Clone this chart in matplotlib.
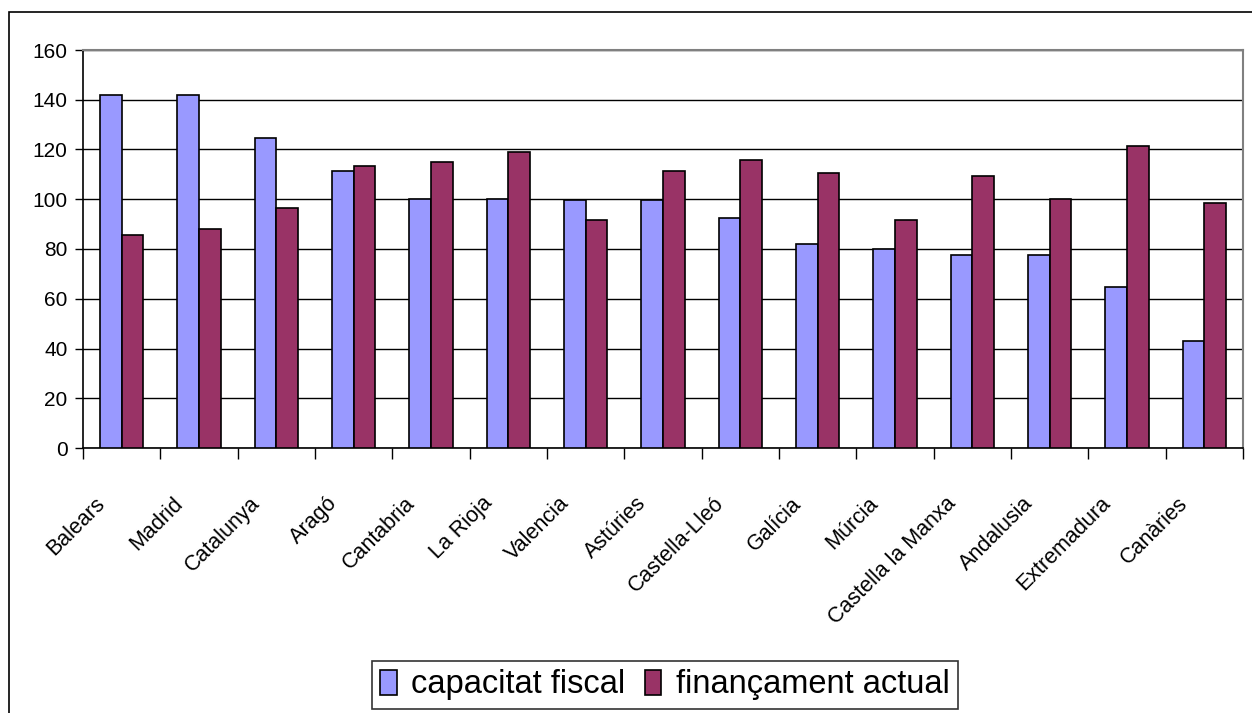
import matplotlib
matplotlib.use("Agg")
import matplotlib.pyplot as plt
import matplotlib.transforms as mtransforms
from matplotlib.patches import Rectangle
import numpy as np

plt.rcParams["font.family"] = ["Liberation Sans", "DejaVu Sans"]

# Dades
comunitats = ["Balears", "Madrid", "Catalunya", "Aragó", "Cantabria", "La Rioja",
              "Valencia", "Astúries", "Castella-Lleó", "Galícia", "Múrcia",
              "Castella la Manxa", "Andalusia", "Extremadura", "Canàries"]
capacitat_fiscal = [142, 142, 124.7, 111.2, 100, 100, 99.8, 99.8, 92.6, 82.1,
                    79.8, 77.7, 77.7, 64.9, 43.1]
financament_actual = [85.5, 88.2, 96.5, 113.2, 115.1, 119, 91.8, 111.2, 115.8,
                      110.7, 91.8, 109.5, 100, 121.5, 98.4]
y_ticks = [0, 20, 40, 60, 80, 100, 120, 140, 160]

W, H = 1252, 713
fig = plt.figure(figsize=(W / 100, H / 100), dpi=100)

# marc exterior del gràfic
fig.patches.append(Rectangle((9 / W, -0.05), 1.1, (H - 12) / H + 0.05,
                             transform=fig.transFigure, fill=False,
                             edgecolor="black", linewidth=1.2))

ax = fig.add_axes([83 / W, (H - 448) / H, (1243 - 83) / W, (448 - 50) / H])

x = np.arange(len(comunitats))
bw = 0.28
ax.bar(x - bw / 2, capacitat_fiscal, bw, color="#9999FF", edgecolor="black",
       linewidth=1.2, label="capacitat fiscal", zorder=3)
ax.bar(x + bw / 2, financament_actual, bw, color="#993366", edgecolor="black",
       linewidth=1.2, label="finançament actual", zorder=3)

ax.set_xlim(-0.5, len(comunitats) - 0.5)
ax.set_ylim(0, 160)
ax.set_yticks(y_ticks)
ax.yaxis.grid(True, color="black", linewidth=1.0, zorder=0)
ax.tick_params(axis="y", direction="out", length=6, width=1, pad=5, labelsize=15)

# marques a les fronteres de categoria, etiquetes al centre
ax.set_xticks(np.arange(-0.5, len(comunitats)), minor=True)
ax.set_xticks(x)
ax.set_xticklabels(comunitats, rotation=45, ha="right", va="top",
                   rotation_mode="anchor", fontsize=15.5)
ax.tick_params(axis="x", which="major", length=0, pad=0)
ax.tick_params(axis="x", which="minor", direction="out", length=8, width=1)
offset = mtransforms.ScaledTranslation(-27 / 100, -45 / 100, fig.dpi_scale_trans)
for lab in ax.get_xticklabels():
    lab.set_transform(lab.get_transform() + offset)

for side in ["left", "bottom"]:
    ax.spines[side].set_color("black")
    ax.spines[side].set_linewidth(1.2)
for side in ["top", "right"]:
    ax.spines[side].set_color("#808080")
    ax.spines[side].set_linewidth(1.5)

leg = fig.legend(loc="center", bbox_to_anchor=(665 / W, (H - 685) / H), ncol=2,
                 fontsize=23.5, frameon=True, fancybox=False, edgecolor="black",
                 handlelength=0.5, handleheight=0.8, handletextpad=0.45,
                 columnspacing=0.6, borderpad=0.25, borderaxespad=0)
leg.get_frame().set_linewidth(1.2)

fig.savefig("out.png", dpi=100)
